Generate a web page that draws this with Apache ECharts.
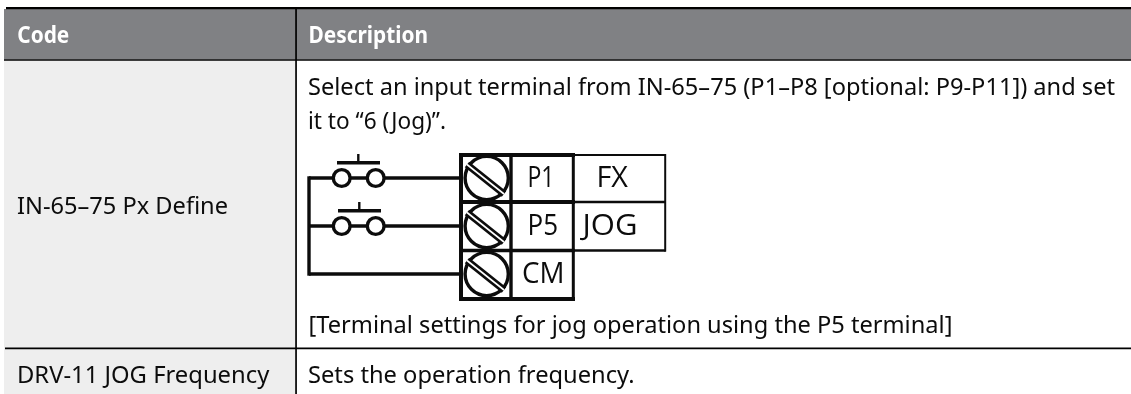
<!DOCTYPE html>
<html><head><meta charset="utf-8">
<style>html,body{margin:0;padding:0;background:#fff}#c{width:1131px;height:394px}</style>
<script src="https://cdn.jsdelivr.net/npm/echarts@6/dist/echarts.min.js"></script>
</head><body><div id="c"></div>
<script>
const headers = ["Code", "Description"];
const codes = ["IN-65–75 Px Define", "DRV-11 JOG Frequency"];
const descriptionLines = [
  "Select an input terminal from IN-65–75 (P1–P8 [optional: P9-P11]) and set",
  "it to “6 (Jog)”.",
  "[Terminal settings for jog operation using the P5 terminal]",
  "Sets the operation frequency."
];
const terminals = ["P1", "P5", "CM"];
const functions = ["FX", "JOG"];

const INK = '#0c0c0c';
const els = [];
const mctx = document.createElement('canvas').getContext('2d');
function rect(x, y, w, h, fill) {
  els.push({type:'rect', silent:true, shape:{x,y,width:w,height:h}, style:{fill}});
}
function line(x1, y1, x2, y2, w, color) {
  els.push({type:'line', silent:true, subPixelOptimize:false, shape:{x1,y1,x2,y2}, style:{stroke:color||INK, lineWidth:w, lineCap:'butt'}});
}
function circle(cx, cy, r, w) {
  els.push({type:'circle', silent:true, shape:{cx,cy,r}, style:{fill:'#fff', stroke:INK, lineWidth:w}});
}
function text(str, x0, x1, baseline, size, opt) {
  opt = opt || {};
  const family = opt.family || '"Noto Sans"';
  const weight = opt.weight || 'normal';
  const font = `${weight} ${size}px ${family}`;
  mctx.font = font;
  const sx = (x1 - x0) / mctx.measureText(str).width;
  els.push({type:'text', silent:true, x:x0, y:baseline - size*0.28, scaleX:sx, originX:0, originY:0,
    style:{text:str, x:0, y:0, font, fill:opt.fill||INK, align:'left', verticalAlign:'middle'}});
}

// table background
rect(4, 9, 1127, 50.5, '#808184');
rect(4, 60, 291.5, 334, '#eeeeee');
// table rules
rect(6, 7, 1125, 2.2, '#000');
rect(4, 59.2, 1127, 1.6, '#000');
rect(5, 347.4, 1126, 1.9, '#000');
rect(295.2, 9, 1.7, 385, '#000');

// header + table text
text(headers[0], 17.3, 69.3, 43.2, 22.5, {weight:'bold', fill:'#fff'});
text(headers[1], 308.5, 428, 43.2, 22.5, {weight:'bold', fill:'#fff'});
text(codes[0], 17, 228, 214, 24);
text(codes[1], 17, 269.3, 382.7, 24);
text(descriptionLines[0], 308, 1115, 95, 24);
text(descriptionLines[1], 308, 446, 129.3, 24);
text(descriptionLines[2], 308.5, 952.4, 333, 24);
text(descriptionLines[3], 308, 634.5, 382.7, 24);

// wiring
const wireW = 3.4, rows = [178, 226, 274];
line(309, rows[0]-1.7, 309, rows[2]+1.7, wireW);
line(309, rows[0], 460, rows[0], wireW);
line(309, rows[1], 460, rows[1], wireW);
line(309, rows[2], 460, rows[2], wireW);
[[162.7, 337, 380, 358.3, 154], [210.7, 338, 381, 359.3, 202]].forEach(function (b, i) {
  line(b[1], b[0], b[2], b[0], 3.4);
  line(b[3], b[4], b[3], b[0], 2.4);
  circle(341.7, rows[i], 8.4, 3.4);
  circle(375.7, rows[i], 8.4, 3.4);
});

// terminal block
rect(461, 155, 112, 144, '#fff');
rect(573, 155, 92.7, 96, '#fff');
line(573, 155, 665.7, 155, 2.2);
line(573, 202, 665.7, 202, 2.4);
line(573, 250.5, 665.7, 250.5, 2.4);
line(665.2, 154, 665.2, 251.6, 2);
line(459, 155, 575, 155, 4);
line(459, 202, 575, 202, 4);
line(459, 250.5, 575, 250.5, 3.6);
line(459, 299, 575, 299, 4);
line(461, 153, 461, 301, 4);
line(511, 155, 511, 299, 3.4);
line(573.3, 155, 573.3, 301, 3);

// screws
rows.forEach(function (cy) {
  circle(486.7, cy, 21.6, 3.4);
  line(467, cy-13.5, 504, cy+16, 7);
  line(467, cy-13.5, 504, cy+16, 1.6, '#fff');
});

// terminal labels
const termX = [[527.5, 554.5], [527.5, 558], [522, 564.5]];
const fam = {family:'"Open Sans"'};
terminals.forEach(function (t, i) {
  text(t, termX[i][0], termX[i][1], [187, 235, 283][i], 29, fam);
});
text(functions[0], 596.5, 628, 187, 29, fam);
text(functions[1], 582.5, 637.5, 235, 29, fam);

const chart = echarts.init(document.getElementById('c'));
chart.setOption({animation:false, backgroundColor:'#fff', graphic:{elements:els}});
</script></body></html>
